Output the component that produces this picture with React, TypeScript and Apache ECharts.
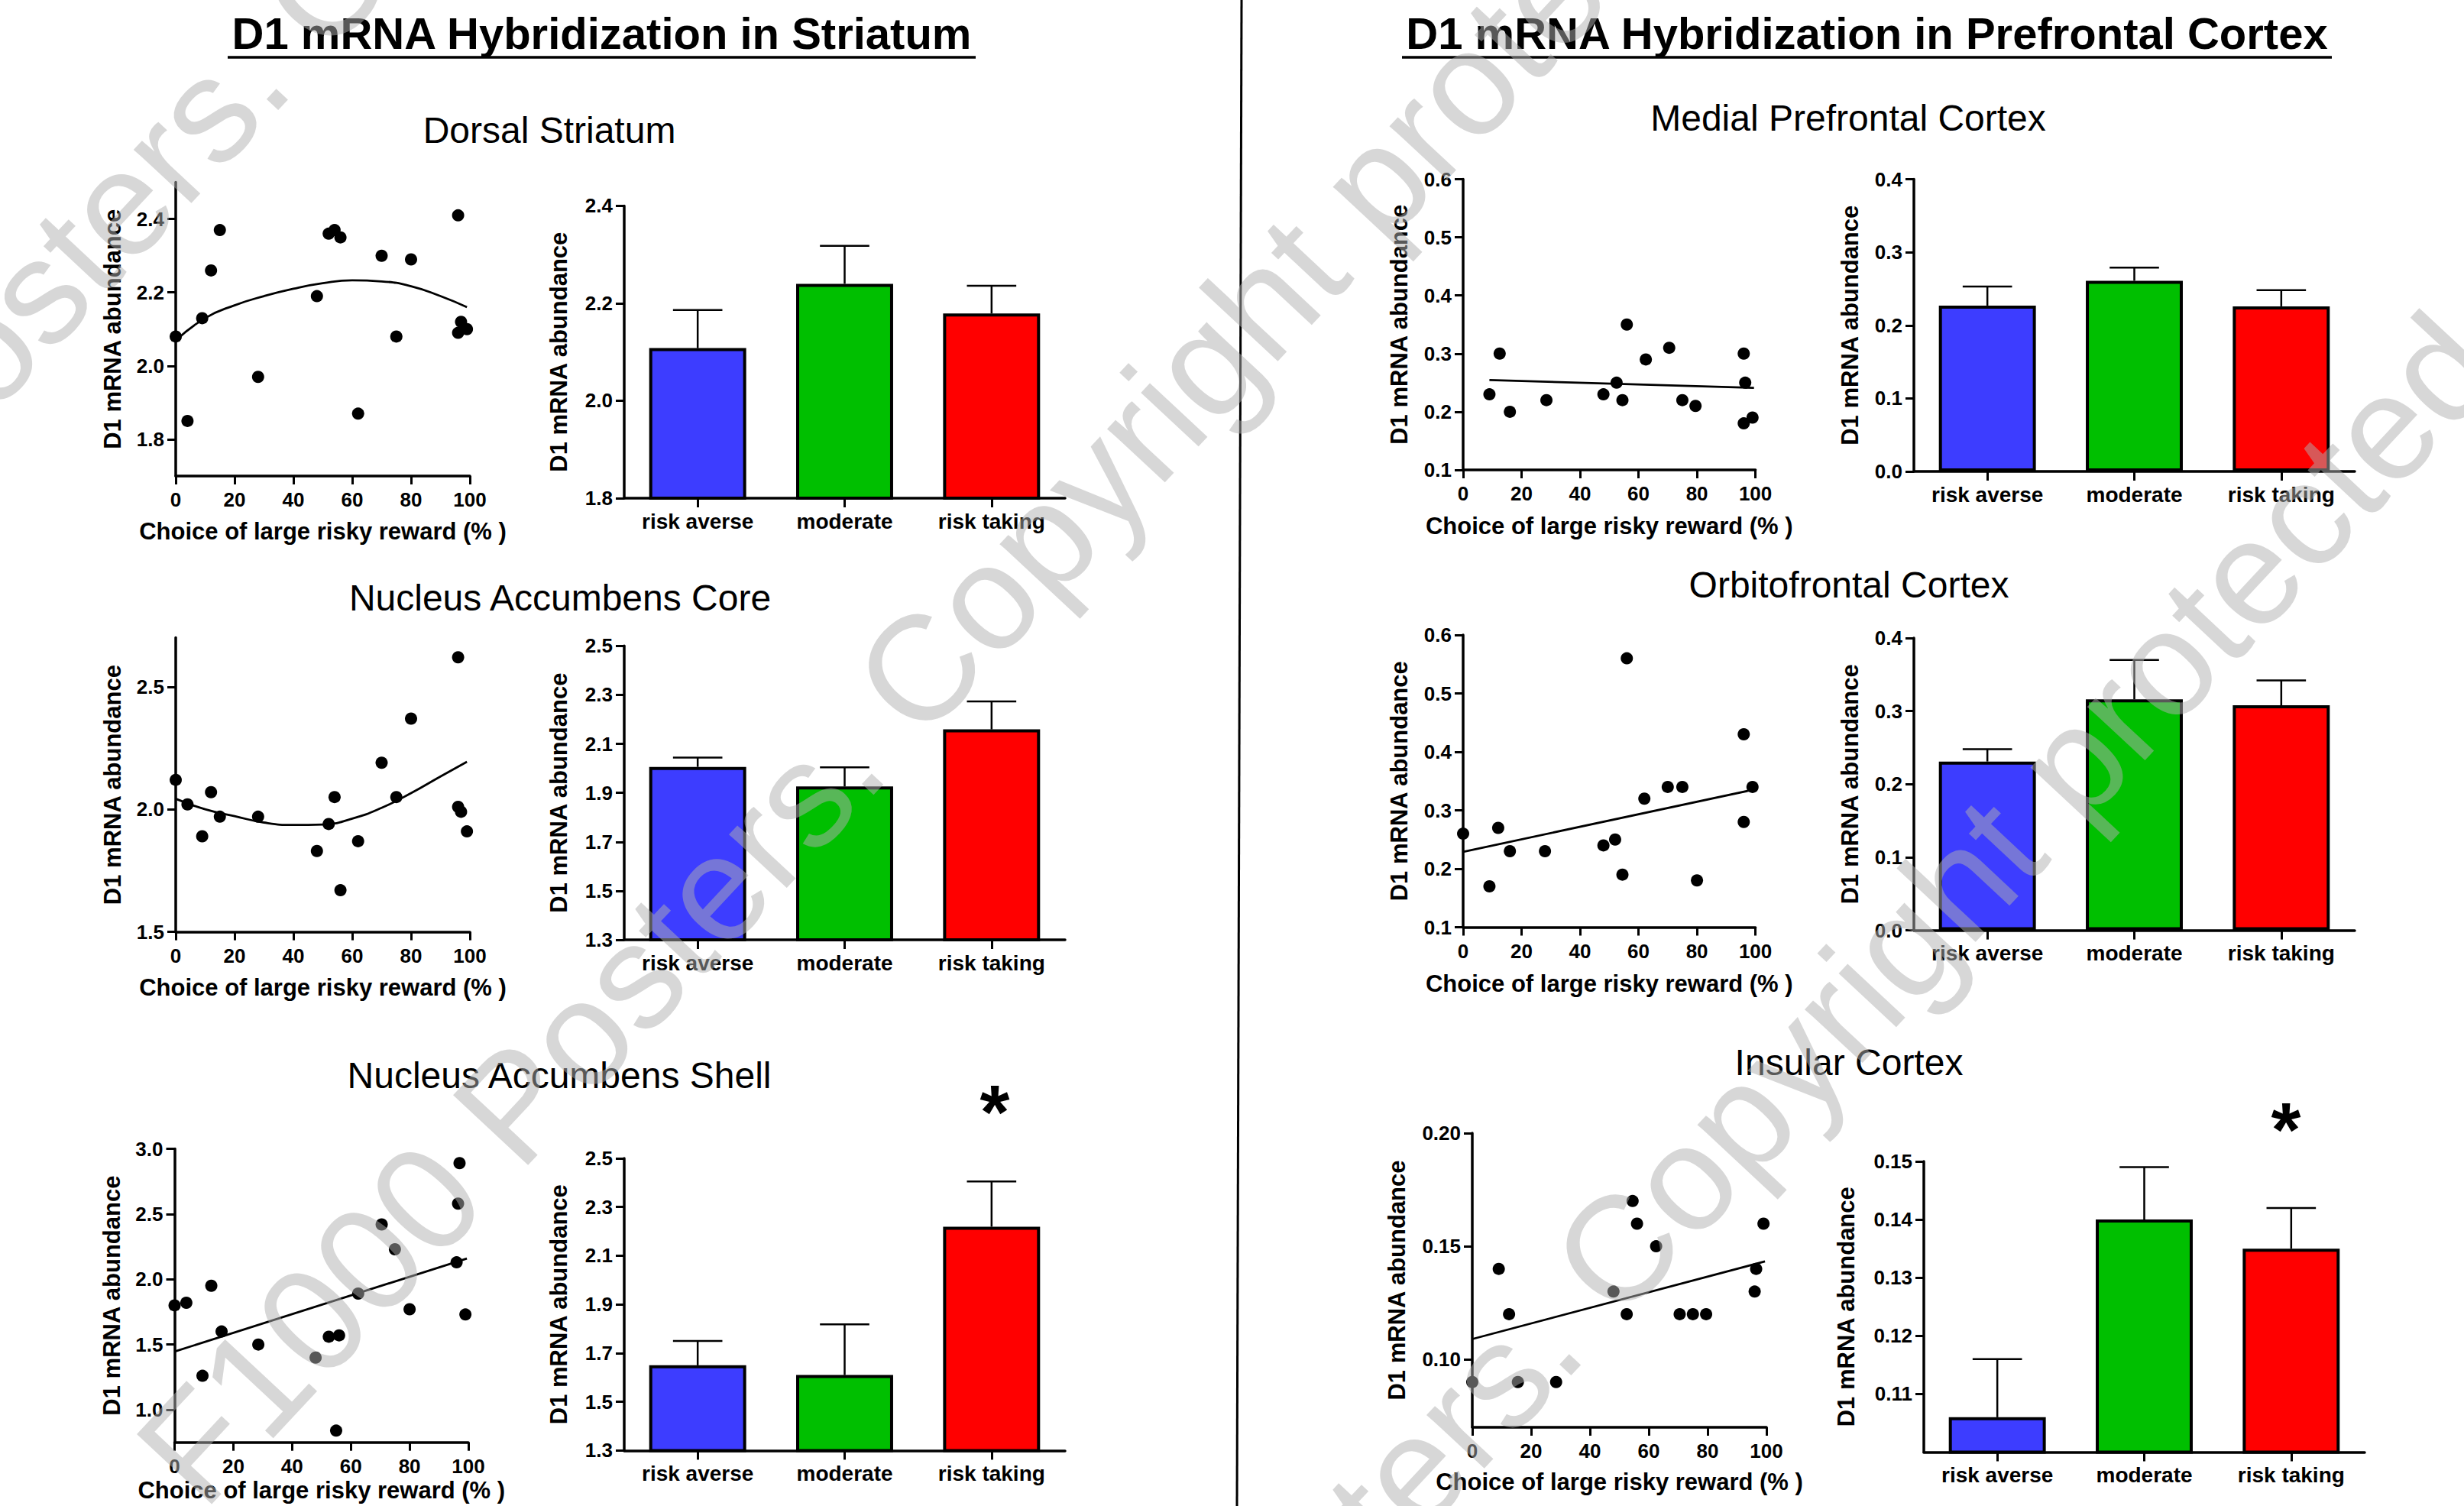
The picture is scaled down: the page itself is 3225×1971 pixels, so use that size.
import React, { useEffect, useRef } from "react";
import * as echarts from "echarts";

const FONT = "'Liberation Sans', Arial, Helvetica, sans-serif";
const CANVAS_W = 3225;
const CANVAS_H = 1971;

// ---------------- DATA ----------------
const groups = ["risk averse", "moderate", "risk taking"];
const barColors = ["#3d3dff", "#00bf00", "#ff0000"];
const scatterXTicks = [0, 20, 40, 60, 80, 100];

// Dorsal Striatum
const dorsalX = [0, 4, 9, 12, 15, 28, 48, 52, 54, 56, 62, 70, 75, 80, 96, 97, 96, 99];
const dorsalY = [2.08, 1.85, 2.13, 2.26, 2.37, 1.97, 2.19, 2.36, 2.37, 2.35, 1.87, 2.3, 2.08, 2.29, 2.41, 2.12, 2.09, 2.1];
const dorsalFitX = [0, 10, 20, 30, 40, 50, 60, 70, 80, 90, 99];
const dorsalFitY = [2.069, 2.13, 2.165, 2.19, 2.21, 2.225, 2.233, 2.23, 2.217, 2.19, 2.16];
const dorsalMeans = [2.108, 2.24, 2.179];
const dorsalSem = [0.078, 0.078, 0.057];
const dorsalScatterTicks = [1.8, 2.0, 2.2, 2.4];
const dorsalBarTicks = [1.8, 2.0, 2.2, 2.4];

// Nucleus Accumbens Core
const coreX = [0, 4, 9, 12, 15, 28, 48, 52, 54, 56, 62, 70, 75, 80, 96, 96, 97, 99];
const coreY = [2.12, 2.02, 1.89, 2.07, 1.97, 1.97, 1.83, 1.94, 2.05, 1.67, 1.87, 2.19, 2.05, 2.37, 2.62, 2.01, 1.99, 1.91];
const coreFitX = [0, 10, 20, 30, 40, 50, 60, 70, 80, 90, 99];
const coreFitY = [2.043, 2.0, 1.972, 1.946, 1.936, 1.938, 1.962, 2.006, 2.066, 2.134, 2.194];
const coreMeans = [2.006, 1.926, 2.159];
const coreSem = [0.038, 0.078, 0.114];
const coreScatterTicks = [1.5, 2.0, 2.5];
const coreBarTicks = [1.3, 1.5, 1.7, 1.9, 2.1, 2.3, 2.5];

// Nucleus Accumbens Shell
const shellX = [0, 4, 9.5, 12.5, 16, 28.5, 48, 52.5, 55, 56, 62.5, 70.5, 75, 80, 97, 96.5, 96, 99];
const shellY = [1.8, 1.82, 1.26, 1.95, 1.6, 1.5, 1.4, 1.56, 0.84, 1.57, 1.89, 2.42, 2.23, 1.77, 2.89, 2.58, 2.13, 1.73];
const shellFitX = [0, 99.5];
const shellFitY = [1.446, 2.159];
const shellMeans = [1.65, 1.61, 2.219];
const shellSem = [0.1, 0.208, 0.186];
const shellScatterTicks = [1.0, 1.5, 2.0, 2.5, 3.0];
const shellBarTicks = [1.3, 1.5, 1.7, 1.9, 2.1, 2.3, 2.5];

// Medial Prefrontal Cortex
const mpfcX = [9, 12.5, 16, 28.5, 48, 52.5, 54.5, 56, 62.5, 70.5, 75, 79.5, 96, 96.5, 96, 99];
const mpfcY = [0.23, 0.3, 0.2, 0.22, 0.23, 0.25, 0.22, 0.35, 0.29, 0.31, 0.22, 0.21, 0.3, 0.25, 0.18, 0.19];
const mpfcFitX = [9, 99.5];
const mpfcFitY = [0.2546, 0.241];
const mpfcMeans = [0.227, 0.261, 0.226];
const mpfcSem = [0.026, 0.018, 0.022];
const mpfcScatterTicks = [0.1, 0.2, 0.3, 0.4, 0.5, 0.6];
const mpfcBarTicks = [0.0, 0.1, 0.2, 0.3, 0.4];

// Orbitofrontal Cortex
const ofcX = [0, 9, 12, 16, 28, 48, 52, 54.5, 56, 62, 70, 75, 80, 96, 96, 99];
const ofcY = [0.26, 0.17, 0.27, 0.23, 0.23, 0.24, 0.25, 0.19, 0.56, 0.32, 0.34, 0.34, 0.18, 0.43, 0.28, 0.34];
const ofcFitX = [0, 99];
const ofcFitY = [0.229, 0.335];
const ofcMeans = [0.231, 0.316, 0.308];
const ofcSem = [0.017, 0.054, 0.034];
const ofcScatterTicks = [0.1, 0.2, 0.3, 0.4, 0.5, 0.6];
const ofcBarTicks = [0.0, 0.1, 0.2, 0.3, 0.4];

// Insular Cortex
const insX = [0, 9, 12.5, 15.5, 28.5, 48, 52.5, 54.5, 56, 62.5, 70.5, 75, 79.5, 96.5, 96, 99];
const insY = [0.09, 0.14, 0.12, 0.09, 0.09, 0.13, 0.12, 0.17, 0.16, 0.15, 0.12, 0.12, 0.12, 0.14, 0.13, 0.16];
const insFitX = [0, 99.5];
const insFitY = [0.109, 0.1433];
const insMeans = [0.106, 0.14, 0.135];
const insSem = [0.01, 0.009, 0.007];
const insScatterTicks = [0.1, 0.15, 0.2];
const insBarTicks = [0.11, 0.12, 0.13, 0.14, 0.15];

// Texts
const leftTitle = "D1 mRNA Hybridization in Striatum";
const rightTitle = "D1 mRNA Hybridization in Prefrontal Cortex";
const yName = "D1 mRNA abundance";
const xName = "Choice of large risky reward (% )";
const watermarkPhrase = "F1000 Posters. Copyright protected. ";

// ---------------- LAYOUT ----------------
type ScatterPanel = {
  grid: { left: number; top: number; width: number; height: number };
  xs: number[]; ys: number[]; fitX: number[]; fitY: number[]; smooth: boolean;
  yMin: number; yMax: number; ticks: number[]; dec: number; yGap: number; xGap: number;
};
type BarPanel = {
  grid: { left: number; top: number; width: number; height: number };
  means: number[]; sem: number[]; yMin: number; yMax: number; ticks: number[]; dec: number; yGap: number;
};

const scatterPanels: ScatterPanel[] = [
  { grid: { left: 230, top: 238.6, width: 385, height: 384.4 }, xs: dorsalX, ys: dorsalY, fitX: dorsalFitX, fitY: dorsalFitY, smooth: true, yMin: 1.7, yMax: 2.5, ticks: dorsalScatterTicks, dec: 1, yGap: 67, xGap: 57 },
  { grid: { left: 230, top: 834.6, width: 385, height: 385 }, xs: coreX, ys: coreY, fitX: coreFitX, fitY: coreFitY, smooth: true, yMin: 1.5, yMax: 2.7, ticks: coreScatterTicks, dec: 1, yGap: 67, xGap: 57 },
  { grid: { left: 228.5, top: 1503.5, width: 384.5, height: 384.2 }, xs: shellX, ys: shellY, fitX: shellFitX, fitY: shellFitY, smooth: false, yMin: 0.75, yMax: 3.0, ticks: shellScatterTicks, dec: 1, yGap: 67, xGap: 47 },
  { grid: { left: 1915, top: 234.5, width: 382.6, height: 380.5 }, xs: mpfcX, ys: mpfcY, fitX: mpfcFitX, fitY: mpfcFitY, smooth: false, yMin: 0.1, yMax: 0.6, ticks: mpfcScatterTicks, dec: 1, yGap: 68, xGap: 58 },
  { grid: { left: 1915, top: 831, width: 382.6, height: 382.5 }, xs: ofcX, ys: ofcY, fitX: ofcFitX, fitY: ofcFitY, smooth: false, yMin: 0.1, yMax: 0.6, ticks: ofcScatterTicks, dec: 1, yGap: 68, xGap: 58 },
  { grid: { left: 1927, top: 1483, width: 385, height: 385 }, xs: insX, ys: insY, fitX: insFitX, fitY: insFitY, smooth: false, yMin: 0.07, yMax: 0.2, ticks: insScatterTicks, dec: 2, yGap: 83, xGap: 56 },
];

const barPanels: BarPanel[] = [
  { grid: { left: 817, top: 269.4, width: 577, height: 382.6 }, means: dorsalMeans, sem: dorsalSem, yMin: 1.8, yMax: 2.4, ticks: dorsalBarTicks, dec: 1, yGap: 70 },
  { grid: { left: 817, top: 845.3, width: 577, height: 384.7 }, means: coreMeans, sem: coreSem, yMin: 1.3, yMax: 2.5, ticks: coreBarTicks, dec: 1, yGap: 70 },
  { grid: { left: 817, top: 1516, width: 577, height: 382.4 }, means: shellMeans, sem: shellSem, yMin: 1.3, yMax: 2.5, ticks: shellBarTicks, dec: 1, yGap: 70 },
  { grid: { left: 2505, top: 234.5, width: 577, height: 382.5 }, means: mpfcMeans, sem: mpfcSem, yMin: 0, yMax: 0.4, ticks: mpfcBarTicks, dec: 1, yGap: 68 },
  { grid: { left: 2505, top: 835, width: 577, height: 382.6 }, means: ofcMeans, sem: ofcSem, yMin: 0, yMax: 0.4, ticks: ofcBarTicks, dec: 1, yGap: 68 },
  { grid: { left: 2518, top: 1520, width: 577, height: 380.5 }, means: insMeans, sem: insSem, yMin: 0.1, yMax: 0.15, ticks: insBarTicks, dec: 2, yGap: 86 },
];

const subtitles = [
  { text: "Dorsal Striatum", x: 719, y: 170 },
  { text: "Nucleus Accumbens Core", x: 733, y: 782 },
  { text: "Nucleus Accumbens Shell", x: 732, y: 1407 },
  { text: "Medial Prefrontal Cortex", x: 2419, y: 154 },
  { text: "Orbitofrontal Cortex", x: 2420, y: 765 },
  { text: "Insular Cortex", x: 2420, y: 1390 },
];

const stars = [
  { x: 1302, y: 1455 },
  { x: 2992, y: 1478 },
];

const watermarkLines = [
  { c: 296, t0: -177 },
  { c: 1477, t0: -301 },
  { c: 2663, t0: -234 },
];

function buildOption() {
  const grid: any[] = [];
  const xAxis: any[] = [];
  const yAxis: any[] = [];
  const series: any[] = [];
  const lineStyle = { color: "#000", width: 3.5 };
  const tickStyle = { color: "#000", width: 3 };
  const labelBase = { color: "#000", fontFamily: FONT, fontWeight: "bold" as const, fontSize: 26 };
  const nameStyle = { color: "#000", fontFamily: FONT, fontWeight: "bold" as const, fontSize: 31 };

  let idx = 0;
  scatterPanels.forEach((p) => {
    const i = idx++;
    grid.push({ ...p.grid, containLabel: false, outerBoundsMode: "none" });
    xAxis.push({
      gridIndex: i, type: "value", min: 0, max: 100, interval: 20,
      axisLine: { show: true, onZero: false, lineStyle },
      axisTick: { show: true, length: 11, lineStyle: tickStyle },
      axisLabel: { ...labelBase, margin: 18, customValues: scatterXTicks },
      splitLine: { show: false },
      name: xName, nameLocation: "middle", nameGap: p.xGap, nameTextStyle: nameStyle,
    });
    yAxis.push({
      gridIndex: i, type: "value", min: p.yMin, max: p.yMax,
      axisLine: { show: true, onZero: false, lineStyle },
      axisTick: { show: true, length: 11, lineStyle: tickStyle, customValues: p.ticks },
      axisLabel: { ...labelBase, margin: 15, customValues: p.ticks, formatter: (v: number) => v.toFixed(p.dec) },
      splitLine: { show: false },
      name: yName, nameLocation: "middle", nameRotate: 90, nameGap: p.yGap, nameTextStyle: nameStyle,
    });
    series.push({
      type: "scatter", xAxisIndex: i, yAxisIndex: i, symbol: "circle", symbolSize: 16,
      itemStyle: { color: "#000", opacity: 1 },
      data: p.xs.map((x, k) => [x, p.ys[k]]), z: 3,
    });
    series.push({
      type: "line", xAxisIndex: i, yAxisIndex: i, showSymbol: false, symbol: "none", smooth: p.smooth,
      lineStyle: { color: "#000", width: 2.8 }, data: p.fitX.map((x, k) => [x, p.fitY[k]]), z: 2,
    });
  });

  barPanels.forEach((p) => {
    const i = idx++;
    grid.push({ ...p.grid, containLabel: false, outerBoundsMode: "none" });
    xAxis.push({
      gridIndex: i, type: "category", data: groups,
      axisLine: { show: true, onZero: false, lineStyle },
      axisTick: { show: true, alignWithLabel: true, length: 12, lineStyle: tickStyle },
      axisLabel: { ...labelBase, fontSize: 28, margin: 16, interval: 0 },
      splitLine: { show: false },
    });
    yAxis.push({
      gridIndex: i, type: "value", min: p.yMin, max: p.yMax,
      axisLine: { show: true, onZero: false, lineStyle },
      axisTick: { show: true, length: 11, lineStyle: tickStyle, customValues: p.ticks },
      axisLabel: { ...labelBase, margin: 15, customValues: p.ticks, formatter: (v: number) => v.toFixed(p.dec) },
      splitLine: { show: false },
      name: yName, nameLocation: "middle", nameRotate: 90, nameGap: p.yGap, nameTextStyle: nameStyle,
    });
    series.push({
      type: "custom", xAxisIndex: i, yAxisIndex: i, z: 1,
      data: p.means.map((m, k) => [k, m, m + p.sem[k]]),
      encode: { x: 0, y: [1, 2] },
      renderItem: (params: any, api: any) => {
        const c = api.value(0);
        const lo = api.coord([c, api.value(1)]);
        const hi = api.coord([c, api.value(2)]);
        const band = api.size([1, 0])[0];
        const hw = band * 0.168;
        return {
          type: "group",
          children: [
            { type: "line", shape: { x1: lo[0], y1: lo[1], x2: hi[0], y2: hi[1] }, style: { stroke: "#000", lineWidth: 2.5 } },
            { type: "line", shape: { x1: hi[0] - hw, y1: hi[1], x2: hi[0] + hw, y2: hi[1] }, style: { stroke: "#000", lineWidth: 2.5 } },
          ],
        };
      },
    });
    series.push({
      type: "bar", xAxisIndex: i, yAxisIndex: i, barWidth: "66%", clip: true, z: 2,
      itemStyle: { borderColor: "#000", borderWidth: 4 },
      data: p.means.map((m, k) => ({ value: m, itemStyle: { color: barColors[k] } })),
    });
  });

  const graphic: any[] = [];
  graphic.push({ type: "text", x: 787.5, y: 43, z: 10, style: { text: leftTitle, fontFamily: FONT, fontWeight: "bold", fontSize: 58, fill: "#000", align: "center", verticalAlign: "middle" } });
  graphic.push({ type: "text", x: 2443.5, y: 43, z: 10, style: { text: rightTitle, fontFamily: FONT, fontWeight: "bold", fontSize: 58, fill: "#000", align: "center", verticalAlign: "middle" } });
  graphic.push({ type: "line", z: 10, shape: { x1: 298, y1: 75, x2: 1277, y2: 75 }, style: { stroke: "#000", lineWidth: 3.5 } });
  graphic.push({ type: "line", z: 10, shape: { x1: 1835, y1: 75, x2: 3052, y2: 75 }, style: { stroke: "#000", lineWidth: 3.5 } });
  graphic.push({ type: "line", z: 10, shape: { x1: 1625, y1: 0, x2: 1619, y2: CANVAS_H }, style: { stroke: "#000", lineWidth: 3 } });
  subtitles.forEach((s) =>
    graphic.push({ type: "text", x: s.x, y: s.y, z: 10, style: { text: s.text, fontFamily: FONT, fontSize: 48, fill: "#000", align: "center", verticalAlign: "middle" } })
  );
  stars.forEach((s) =>
    graphic.push({ type: "text", x: s.x, y: s.y, z: 10, style: { text: "*", fontFamily: FONT, fontWeight: "bold", fontSize: 100, fill: "#000", align: "center", verticalAlign: "middle" } })
  );
  // watermark
  const theta = (47 * Math.PI) / 180;
  const d = [Math.cos(theta), -Math.sin(theta)];
  const n = [Math.sin(theta), Math.cos(theta)];
  const fs = 195;
  const offsetEm = 21.288;
  const wmText = watermarkPhrase + watermarkPhrase + watermarkPhrase;
  watermarkLines.forEach((l) => {
    const px = l.c * n[0] + l.t0 * d[0];
    const py = l.c * n[1] + l.t0 * d[1];
    const sx = px - offsetEm * fs * d[0];
    const sy = py - offsetEm * fs * d[1];
    graphic.push({
      type: "text", x: sx, y: sy, rotation: theta, z: 100, silent: true,
      style: { text: wmText, fontFamily: FONT, fontSize: fs, fill: "rgba(175,175,175,0.5)", align: "left", verticalAlign: "middle" },
    });
  });

  return {
    animation: false,
    backgroundColor: "#ffffff",
    textStyle: { fontFamily: FONT },
    grid, xAxis, yAxis, series, graphic,
  };
}

export default function App() {
  const ref = useRef<HTMLDivElement>(null);
  useEffect(() => {
    if (!ref.current) return;
    const chart = echarts.init(ref.current, null, { renderer: "svg", width: CANVAS_W, height: CANVAS_H });
    chart.setOption(buildOption() as any);
    return () => chart.dispose();
  }, []);
  return (
    <div
      ref={ref}
      style={{ position: "absolute", left: 0, top: 0, width: CANVAS_W, height: CANVAS_H, background: "#fff", overflow: "hidden" }}
    />
  );
}
